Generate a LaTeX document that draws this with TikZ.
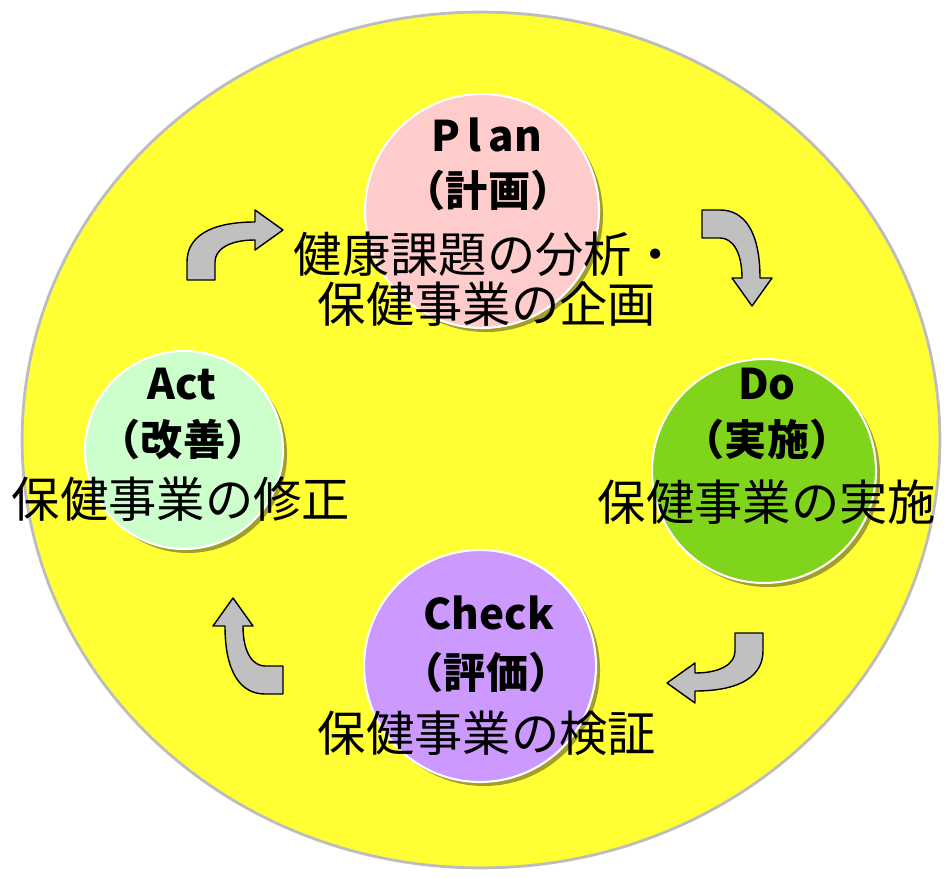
\documentclass[tikz,border=0pt]{standalone}
\usepackage{fontspec}
\newfontfamily\jpfont{Noto Sans CJK JP}
\usetikzlibrary{shapes.geometric,shadows}

\definecolor{fieldyellow}{HTML}{FFFF33}
\definecolor{fieldrim}{HTML}{BDBDBD}
\definecolor{planpink}{HTML}{FFCCCC}
\definecolor{dogreen}{HTML}{80D41C}
\definecolor{checkviolet}{HTML}{CC99FF}
\definecolor{actmint}{HTML}{CCFFCC}
\definecolor{shadeolive}{HTML}{A39E2A}
\definecolor{turngray}{HTML}{C0C0C0}

\tikzset{
  stage/.style={circle, draw=white, line width=1.2pt, inner sep=0pt,
    drop shadow={shadow xshift=2.3pt, shadow yshift=-2.3pt, fill=shadeolive, opacity=1}},
  stagehead/.style={font=\jpfont\bfseries\fontsize{24}{28}\selectfont, anchor=base, inner sep=0pt},
  stagetask/.style={font=\jpfont\fontsize{27.5}{32}\selectfont, anchor=base, inner sep=0pt},
  turn/.pic={
    \draw[fill=turngray, line width=0.8pt, line join=round]
      (-28,8) .. controls (-75,8) and (-96,-8) .. (-96,-32) -- (-96,-50)
      -- (-68,-50) -- (-68,-32) .. controls (-68,-20) and (-55,-10) .. (-28,-10)
      -- (-28,-20) -- (0,0) -- (-28,20) -- cycle;
  }
}

\begin{document}
\begin{tikzpicture}[x=0.02cm, y=0.02cm]
  \useasboundingbox (0,0) rectangle (944,-878);

  \node[ellipse, draw=fieldrim, line width=1.6pt, fill=fieldyellow, inner sep=0pt,
    minimum width=18.36cm, minimum height=17.12cm] (field) at (481,-440) {};

  % the four stages
  \node[stage, fill=planpink, minimum size=4.68cm] (plan) at (482,-211) {};
  \node[stage, fill=dogreen, minimum size=4.48cm] (do) at (764,-471) {};
  \node[stage, fill=checkviolet, minimum size=4.64cm] (check) at (480,-666) {};
  \node[stage, fill=actmint, minimum size=3.96cm] (act) at (184,-450) {};

  \node[stagehead] (planname) at (487,-152) {P\kern4pt l\kern4pt an};
  \node[stagehead] (planjp) at (488,-207) {（計画）};
  \node[stagetask] (plantask1) at (487,-273) {健康課題の分析・};
  \node[stagetask] (plantask2) at (487,-323) {保健事業の企画};

  \node[stagehead] (doname) at (767,-400) {Do};
  \node[stagehead] (dojp) at (767,-456) {（実施）};
  \node[stagetask] (dotask) at (767,-521) {保健事業の実施};

  \node[stagehead] (checkname) at (489,-630) {Check};
  \node[stagehead] (checkjp) at (486,-688) {（評価）};
  \node[stagetask] (checktask) at (487,-751) {保健事業の検証};

  \node[stagehead] (actname) at (182,-400) {Act};
  \node[stagehead] (actjp) at (183,-456) {（改善）};
  \node[stagetask] (acttask) at (181,-518) {保健事業の修正};

  % turning arrows between the stages
  \pic at (283,-230) {turn};
  \pic[rotate=-90] at (752,-306) {turn};
  \pic[rotate=180] at (667,-683) {turn};
  \pic[rotate=90] at (233,-598) {turn};
\end{tikzpicture}
\end{document}
